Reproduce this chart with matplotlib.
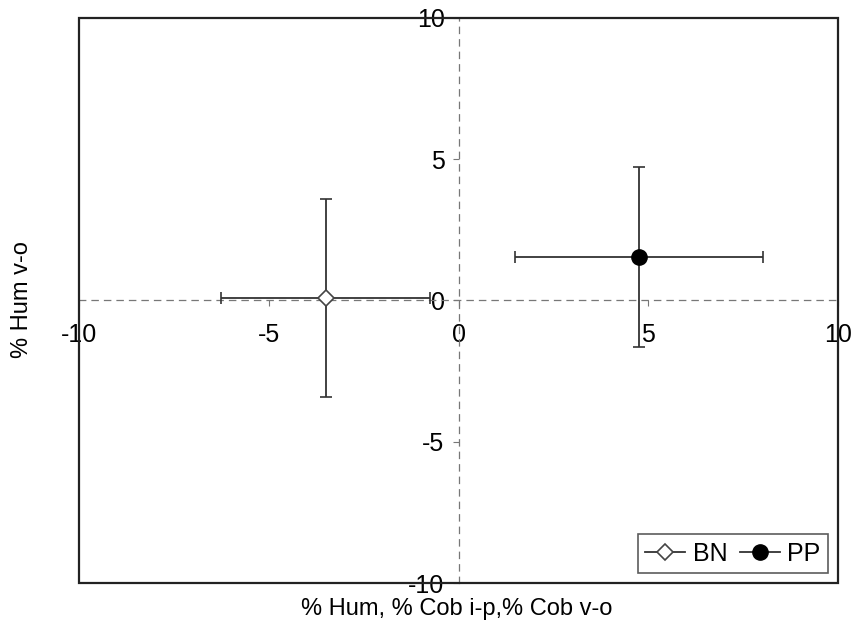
import matplotlib
matplotlib.use('Agg')
from matplotlib import rcParams
rcParams['font.family'] = ['Liberation Sans', 'DejaVu Sans']
import matplotlib.pyplot as plt
from matplotlib.lines import Line2D
from matplotlib.patches import Rectangle

# values
groups = ['BN', 'PP']
x_mean = [-3.5, 4.75]
y_mean = [0.1, 1.55]
x_err = [2.75, 3.27]
y_err = [3.5, 3.18]
ticks = [-10, -5, 0, 5, 10]
tick_labels = ['-10', '-5', '0', '5', '10']

markers = {'BN': dict(marker='D', mfc='white', mec='#444444', ms=8.5, mew=1.2),
           'PP': dict(marker='o', mfc='black', mec='black', ms=11, mew=1)}


def main():
	fig = plt.figure(figsize=(8.54, 6.38), dpi=100)
	ax = fig.add_axes([0.0925, 0.0862, 0.8888, 0.8856])

	for g, x, y, xe, ye in zip(groups, x_mean, y_mean, x_err, y_err):
		ax.errorbar(x, y, xerr=xe, yerr=ye, fmt='none', ecolor='#333333',
					elinewidth=1.3, capsize=4.5, capthick=1.2, zorder=3)
		ax.plot(x, y, linestyle='none', zorder=4, **markers[g])

	ax.set_xlim(-10, 10)
	ax.set_ylim(-10, 10)

	# zero lines as dashed spines, the box drawn separately
	for s in ['left', 'bottom']:
		ax.spines[s].set_position(('data', 0))
		ax.spines[s].set_linestyle((0, (5, 5)))
		ax.spines[s].set_color('#777777')
		ax.spines[s].set_linewidth(0.9)
	for s in ['top', 'right']:
		ax.spines[s].set_visible(False)
	ax.add_patch(Rectangle((0, 0), 1, 1, transform=ax.transAxes, fill=False,
						   edgecolor='#222222', linewidth=1.6, clip_on=False, zorder=5))

	ax.set_xticks(ticks)
	ax.set_xticklabels(tick_labels)
	ax.set_yticks(ticks)
	ax.set_yticklabels(tick_labels)
	ax.tick_params(direction='out', length=4, width=0.8, color='#777777', labelsize=18)
	ax.tick_params(axis='x', pad=12)
	ax.tick_params(axis='y', pad=6)

	fig.text(0.535, 0.045, '% Hum, % Cob i-p,% Cob v-o', ha='center', va='center', fontsize=17)
	fig.text(0.026, 0.53, '% Hum v-o', ha='center', va='center', rotation=90, fontsize=17)

	handles = [Line2D([], [], color='#333333', linewidth=1.3, **markers[g]) for g in groups]
	leg = ax.legend(handles, groups, loc='lower right', ncol=2, fontsize=18,
					frameon=True, fancybox=False, edgecolor='#333333',
					handlelength=1.6, handletextpad=0.3, columnspacing=0.5,
					borderpad=0.3, borderaxespad=0.4)
	leg.get_frame().set_linewidth(1.2)

	plt.savefig('out.png', dpi=100)


if __name__ == "__main__":
	main()
